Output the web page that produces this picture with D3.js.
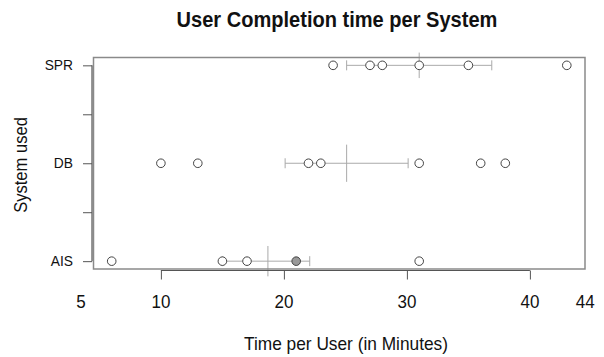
<!DOCTYPE html>
<html>
<head>
<meta charset="utf-8">
<title>User Completion time per System</title>
<script src="https://cdn.jsdelivr.net/npm/d3@7"></script>
<style>
body { margin: 0; background: #fff; }
text { font-family: "Liberation Sans", Arial, sans-serif; fill: #111; }
</style>
</head>
<body>
<script>
// systems, bottom to top
var systems = ["AIS", "DB", "SPR"];

// completion time per user (minutes)
var aisTimes = [6, 15, 17, 21, 21, 31];
var dbTimes  = [10, 13, 22, 23, 31, 36, 38];
var sprTimes = [24, 27, 28, 31, 35, 43];

// mean and error bar ends per system (AIS, DB, SPR)
var means   = [18.7, 25.1, 31.0];
var errLow  = [15.0, 20.1, 25.1];
var errHigh = [22.1, 30.1, 36.9];
// half height of the mean marker, in y units
var meanHalf = [0.155, 0.19, 0.13];

// x tick labels and where they sit
var xLabels   = ["5", "10", "20", "30", "40", "44"];
var xLabelPos = [3.5, 10, 20, 30, 40, 44.5];
var xTicks    = [10, 20, 30, 40];
var yTicks    = [1, 1.5, 2, 2.5, 3];

var W = 604, H = 357;
var margin = {top: 57.5, right: 19, bottom: 88, left: 93.5};
var squeeze = 0.92; // text in the picture is a bit narrow

var svg = d3.select("body").append("svg")
  .attr("width", W)
  .attr("height", H);

var x = d3.scaleLinear().domain([4.52, 44.48]).range([margin.left, W - margin.right]);
var y = d3.scaleLinear().domain([0.92, 3.08]).range([H - margin.bottom, margin.top]);

// narrow text placed at (px, py)
function label(sel, px, py, txt, size, anchor, rot) {
  return sel.append("text")
    .attr("transform", "translate(" + px + "," + py + ")" + (rot ? " rotate(" + rot + ")" : "") + " scale(" + squeeze + ",1)")
    .attr("text-anchor", anchor || "middle")
    .style("font-size", size + "px")
    .text(txt);
}

var allTimes = [aisTimes, dbTimes, sprTimes];
var points = [];
allTimes.forEach(function(arr, i) {
  var counts = d3.rollup(arr, v => v.length, d => d);
  counts.forEach(function(n, v) {
    points.push({sys: i + 1, val: v, dup: n > 1});
  });
});

// error bars
var errColor = "#aaa";
var g = svg.append("g");
systems.forEach(function(s, i) {
  var yy = y(i + 1);
  g.append("line")
    .attr("x1", x(errLow[i])).attr("x2", x(errHigh[i]))
    .attr("y1", yy).attr("y2", yy)
    .attr("stroke", errColor);
  [errLow[i], errHigh[i]].forEach(function(v) {
    g.append("line")
      .attr("x1", x(v)).attr("x2", x(v))
      .attr("y1", yy - 5).attr("y2", yy + 5)
      .attr("stroke", errColor);
  });
  g.append("line")
    .attr("x1", x(means[i])).attr("x2", x(means[i]))
    .attr("y1", y(i + 1 + meanHalf[i])).attr("y2", y(i + 1 - meanHalf[i]))
    .attr("stroke", errColor);
});

// points
svg.selectAll("circle.pt")
  .data(points)
  .enter()
  .append("circle")
    .attr("class", "pt")
    .attr("cx", d => x(d.val))
    .attr("cy", d => y(d.sys))
    .attr("r", 4.3)
    .attr("fill", d => d.dup ? "#999" : "#fff")
    .attr("stroke", "#444")
    .attr("stroke-width", 1);

// plot box
svg.append("rect")
  .attr("x", margin.left)
  .attr("y", margin.top)
  .attr("width", W - margin.left - margin.right)
  .attr("height", H - margin.top - margin.bottom)
  .attr("fill", "none")
  .attr("stroke", "#8a8a8a")
  .attr("stroke-width", 1.5);

// x axis
var xAxis = svg.append("g")
  .attr("transform", "translate(0," + (H - margin.bottom + 1.5) + ")")
  .call(d3.axisBottom(x).tickValues(xTicks).tickSize(9).tickFormat(""));
xAxis.select(".domain").attr("stroke", "#555").attr("stroke-width", 1.2)
  .attr("d", "M" + x(10) + ",0H" + x(40));
xAxis.selectAll(".tick line").attr("stroke", "#555");

xLabels.forEach(function(t, i) {
  label(svg, x(xLabelPos[i]), 308, t, 18.5);
});

// y axis
var yAxis = svg.append("g")
  .attr("transform", "translate(" + (margin.left - 1.5) + ",0)")
  .call(d3.axisLeft(y).tickValues(yTicks).tickSize(9).tickFormat(""));
yAxis.select(".domain").attr("stroke", "#555").attr("stroke-width", 1.2)
  .attr("d", "M0," + y(1) + "V" + y(3));
yAxis.selectAll(".tick line").attr("stroke", "#555");

systems.forEach(function(s, i) {
  label(svg, 73, y(i + 1) + 5, s, 15, "end");
});

// title and axis titles
label(svg, 337, 27, "User Completion time per System", 21.8, "middle")
  .style("font-weight", "bold");

label(svg, 346, 350, "Time per User (in Minutes)", 18.8);

label(svg, 27, 165, "System used", 18, "middle", -90);
</script>
</body>
</html>
